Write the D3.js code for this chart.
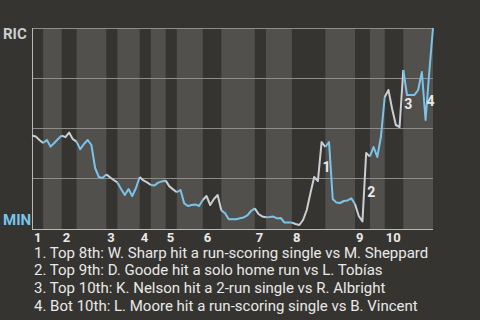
<!DOCTYPE html>
<html>
<head>
<meta charset="utf-8">
<script src="https://cdn.jsdelivr.net/npm/d3@7"></script>
<style>
  html, body { margin: 0; padding: 0; background: #363430; }
  svg { display: block; }
</style>
</head>
<body>
<svg id="chart" width="480" height="320"></svg>
<script>
// ---- data ----
const teams = { top: "RIC", bottom: "MIN" };
const innings = ["1", "2", "3", "4", "5", "6", "7", "8", "9", "10"];
// event index where each half-inning starts (last value = final event)
const halfStarts = [0, 3, 8, 12, 20, 23, 29, 32, 36, 39, 46, 51, 60, 63, 70, 79, 87, 91, 95, 100, 108];
// RIC win probability (%) after each event
const winProbRIC = [
  46.2, 45.8, 44.0, 42.5, 44.0, 40.7, 42.5, 44.5, 46.2, 45.4,
  47.7, 44.4, 43.2, 39.4, 42.0, 44.0, 41.5, 30.0, 25.5, 25.0,
  26.8, 25.4, 24.0, 22.8, 19.5, 16.5, 19.5, 16.0, 20.0, 25.5,
  23.8, 22.8, 21.5, 21.3, 22.7, 23.3, 23.7, 20.8, 19.3, 17.9,
  19.0, 12.3, 11.0, 11.5, 11.8, 11.0, 14.0, 16.0, 11.5, 14.5,
  16.5, 8.8, 7.4, 4.4, 4.4, 4.4, 4.9, 5.3, 6.3, 8.5,
  9.8, 7.0, 5.8, 5.4, 5.5, 5.7, 4.8, 5.0, 2.7, 2.7,
  2.7, 2.0, 1.5, 4.0, 9.0, 17.5, 25.5, 23.5, 43.0, 40.5,
  43.0, 14.5, 12.7, 12.5, 13.5, 13.8, 14.8, 12.0, 6.0, 3.3,
  37.5, 35.8, 40.5, 35.5, 46.0, 65.5, 69.0, 59.5, 51.5, 50.5,
  79.0, 66.5, 66.5, 66.5, 69.0, 78.0, 54.0, 78.0, 100
];
const gridValues = [25, 50, 75, 100];
const keyEventIndex = [78, 90, 100, 106];
const keyEventText = [
  "1. Top 8th: W. Sharp hit a run-scoring single vs M. Sheppard",
  "2. Top 9th: D. Goode hit a solo home run vs L. Tobías",
  "3. Top 10th: K. Nelson hit a 2-run single vs R. Albright",
  "4. Bot 10th: L. Moore hit a run-scoring single vs B. Vincent"
];

// ---- drawing ----
const svg = d3.select("#chart");
const W = 480, H = 320;
const plot = { left: 32, right: 433, top: 28, bottom: 228 };
const colors = { bg: "#363430", band: "#51504d", grid: "#8d8c89", axis: "#b9b9b9",
                 topLine: "#c9ced2", botLine: "#7cc3ea", text: "#e9e9e9" };

svg.append("rect").attr("width", W).attr("height", H).attr("fill", colors.bg);

const x = d3.scaleLinear().domain([0, winProbRIC.length - 1]).range([plot.left, plot.right]);
const y = d3.scaleLinear().domain([0, 100]).range([plot.bottom, plot.top]);

// bands for bottom halves
const halves = d3.range(halfStarts.length - 1).map(k => ({ k, s: halfStarts[k], e: halfStarts[k + 1] }));
svg.append("g").selectAll("rect")
  .data(halves.filter(h => h.k % 2 === 1))
  .join("rect")
  .attr("x", d => x(d.s))
  .attr("width", d => x(d.e) - x(d.s))
  .attr("y", plot.top)
  .attr("height", plot.bottom + 1 - plot.top)
  .attr("fill", colors.band);

// gridlines
svg.append("g").selectAll("line")
  .data(gridValues)
  .join("line")
  .attr("x1", plot.left).attr("x2", plot.right)
  .attr("y1", d => Math.round(y(d)) + 0.5).attr("y2", d => Math.round(y(d)) + 0.5)
  .attr("stroke", colors.grid).attr("stroke-width", 1);

// axes lines
svg.append("line")
  .attr("x1", plot.left + 0.5).attr("x2", plot.left + 0.5)
  .attr("y1", plot.top).attr("y2", plot.bottom + 2)
  .attr("stroke", colors.axis);
svg.append("line")
  .attr("x1", plot.left).attr("x2", plot.right)
  .attr("y1", plot.bottom + 1.5).attr("y2", plot.bottom + 1.5)
  .attr("stroke", colors.axis);

// win probability line, coloured by half-inning
const line = d3.line().x(d => x(d.i)).y(d => y(d.v));
svg.append("g").selectAll("path")
  .data(halves)
  .join("path")
  .attr("d", h => line(d3.range(h.s, h.e + 1).map(i => ({ i, v: winProbRIC[i] }))))
  .attr("fill", "none")
  .attr("stroke", h => h.k % 2 === 0 ? colors.topLine : colors.botLine)
  .attr("stroke-width", 2)
  .attr("stroke-linejoin", "round");

// team labels
svg.append("text").text(teams.top)
  .attr("x", 3).attr("y", y(100) + 11)
  .attr("font-family", "Roboto, sans-serif").attr("font-weight", "bold").attr("font-size", 15)
  .attr("fill", colors.topLine);
svg.append("text").text(teams.bottom)
  .attr("x", 3).attr("y", y(0) - 3)
  .attr("font-family", "Roboto, sans-serif").attr("font-weight", "bold").attr("font-size", 15)
  .attr("fill", colors.botLine);

// inning labels
svg.append("g").selectAll("text")
  .data(innings)
  .join("text")
  .text(d => d)
  .attr("x", (d, i) => x(halfStarts[i * 2]) + (i === 0 ? 2 : 1))
  .attr("y", plot.bottom + 14)
  .attr("font-family", "Roboto, sans-serif").attr("font-weight", "bold").attr("font-size", 13)
  .attr("fill", colors.text);

// key event markers
svg.append("g").selectAll("text")
  .data(keyEventIndex)
  .join("text")
  .text((d, i) => String(i + 1))
  .attr("x", d => x(d) + 1)
  .attr("y", d => y((winProbRIC[d - 1] + winProbRIC[d]) / 2) + 10)
  .attr("font-family", "Roboto, sans-serif").attr("font-weight", "bold").attr("font-size", 14)
  .attr("fill", colors.text);

// legend
svg.append("g").selectAll("text")
  .data(keyEventText)
  .join("text")
  .text(d => d)
  .attr("x", 34)
  .attr("y", (d, i) => 257.5 + i * 17.8)
  .attr("font-family", "Roboto, sans-serif").attr("font-size", 15)
  .attr("fill", colors.text);
</script>
</body>
</html>
